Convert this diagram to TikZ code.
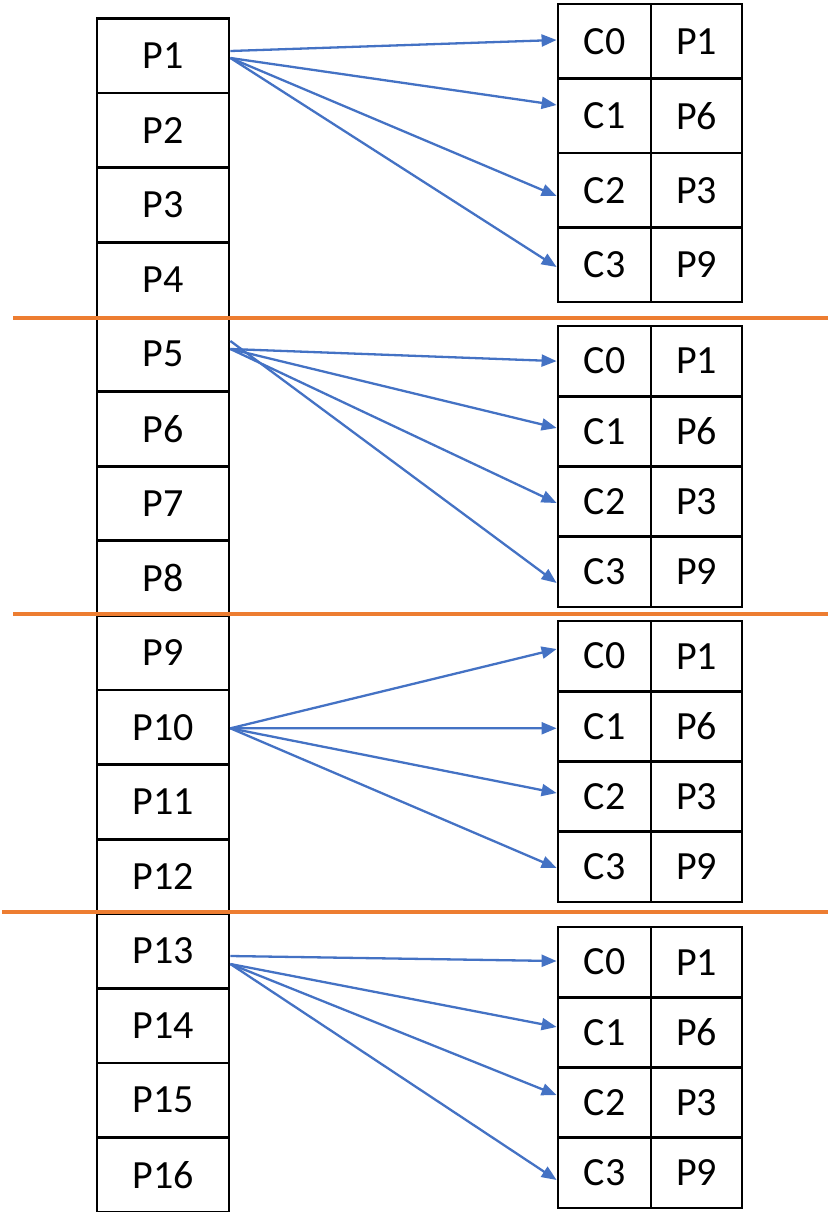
\documentclass[tikz,border=0pt]{standalone}
\usepackage{fontspec}
\setmainfont{Carlito}
\usetikzlibrary{arrows.meta}
\definecolor{linkblue}{HTML}{4472C4}
\definecolor{splitorange}{HTML}{ED7D31}
\begin{document}
\begin{tikzpicture}[x=1pt,y=-1pt,
  cellbox/.style={draw=black, line width=2.8pt, rectangle, inner sep=0pt,
    font=\fontsize{40}{48}\selectfont},
  pcell/.style={cellbox, minimum width=132pt, minimum height=74.6pt},
  ccell/.style={cellbox, minimum width=93pt},
  vcell/.style={cellbox, minimum width=91pt},
  arr/.style={draw=linkblue, line width=2.3pt, -{Triangle[length=15pt,width=12pt]}},
  split/.style={draw=splitorange, line width=3.4pt}]
\useasboundingbox (0,0) rectangle (828,1212);
\clip (0,0) rectangle (828,1212);

% page column P1..P16
\foreach \i in {1,...,16}
  \node[pcell] (p\i) at (163, {18.5+74.6*(\i-0.5)}) {P\i};

% four lookup tables
\foreach \t/\top/\h in {1/4/74.5, 2/326/70.25, 3/621/70.25, 4/927/70.25} {
  \foreach \r/\v in {0/P1, 1/P6, 2/P3, 3/P9} {
    \node[ccell, minimum height=\h pt] (t\t c\r) at (604.5, {\top+\h*(\r+0.5)}) {C\r};
    \node[vcell, minimum height=\h pt] (t\t v\r) at (696.5, {\top+\h*(\r+0.5)}) {\v};
  }
}

% group separators
\draw[split] (13,318) -- (828,318);
\draw[split] (13,614) -- (828,614);
\draw[split] (2,912) -- (828,912);

% P1 -> table 1
\draw[arr] ([yshift=4.8pt]p1.east) -- ([yshift=1.25pt]t1c0.west);
\draw[arr] ([yshift=-2.2pt]p1.east) -- ([yshift=10.75pt]t1c1.west);
\draw[arr] ([yshift=-2.2pt]p1.east) -- ([yshift=-5.75pt]t1c2.west);
\draw[arr] ([yshift=-2.2pt]p1.east) -- ([yshift=-2.25pt]t1c3.west);

% P5 -> table 2
\draw[arr] ([yshift=5.2pt]p5.east) -- ([yshift=0pt]t2c0.west);
\draw[arr] ([yshift=5.2pt]p5.east) -- ([yshift=3.4pt]t2c1.west);
\draw[arr] ([yshift=5.2pt]p5.east) -- ([yshift=-1.4pt]t2c2.west);
\draw[arr] ([yshift=13.2pt]p5.east) -- ([yshift=-11.1pt]t2c3.west);

% P10 -> table 3
\draw[arr] ([yshift=-1.1pt]p10.east) -- ([yshift=7.1pt]t3c0.west);
\draw[arr] ([yshift=-1.1pt]p10.east) -- ([yshift=-1.9pt]t3c1.west);
\draw[arr] ([yshift=-1.1pt]p10.east) -- ([yshift=3.6pt]t3c2.west);
\draw[arr] ([yshift=-1.1pt]p10.east) -- ([yshift=-1.1pt]t3c3.west);

% P13 -> table 4
\draw[arr] ([yshift=-5pt]p13.east) -- ([yshift=1.1pt]t4c0.west);
\draw[arr] ([yshift=-13pt]p13.east) -- ([yshift=5.4pt]t4c1.west);
\draw[arr] ([yshift=-13pt]p13.east) -- ([yshift=7.6pt]t4c2.west);
\draw[arr] ([yshift=-13pt]p13.east) -- ([yshift=-7.1pt]t4c3.west);
\end{tikzpicture}
\end{document}
